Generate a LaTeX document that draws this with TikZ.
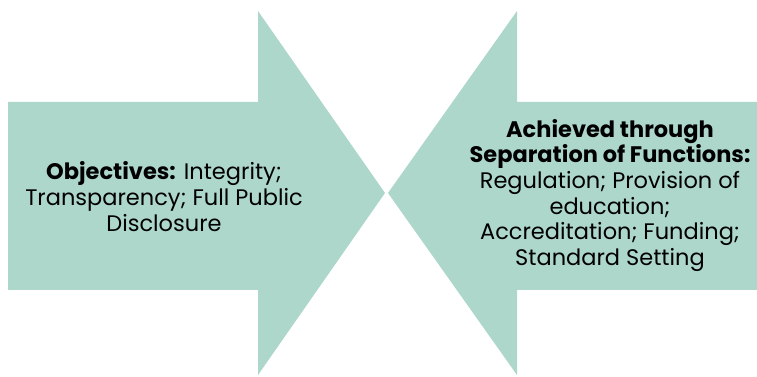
\documentclass[tikz,border=0pt]{standalone}
\usepackage{fontspec}
\setmainfont{Poppins}
\definecolor{sage}{RGB}{173,215,203}

\begin{document}
\begin{tikzpicture}[
  blk/.style={fill=sage,draw=none},
  txt/.style={align=center,font=\fontsize{12.8}{14.6}\selectfont,inner sep=0pt}]
\useasboundingbox (0,0) rectangle (15.14,7.54);
% ================= left arrow, pointing right =================
\fill[blk] (0.16,5.5) -- (5.16,5.5) -- (5.16,7.32) -- (7.70,3.68)
  -- (5.16,0.04) -- (5.16,1.74) -- (0.16,1.74) -- cycle;
\node[txt] (objectives) at (3.28,3.61)
  {\textbf{Objectives:} Integrity;\\Transparency; Full Public\\Disclosure};
% ================= right arrow, pointing left =================
\fill[blk] (15.14,5.5) -- (10.34,5.5) -- (10.34,7.32) -- (7.76,3.68)
  -- (10.34,0.04) -- (10.34,1.74) -- (15.14,1.74) -- cycle;
\node[txt] (functions) at (12.20,3.63)
  {\textbf{Achieved through}\\\textbf{Separation of Functions:}\\Regulation; Provision of\\education;\\Accreditation; Funding;\\Standard Setting};
\end{tikzpicture}
\end{document}
